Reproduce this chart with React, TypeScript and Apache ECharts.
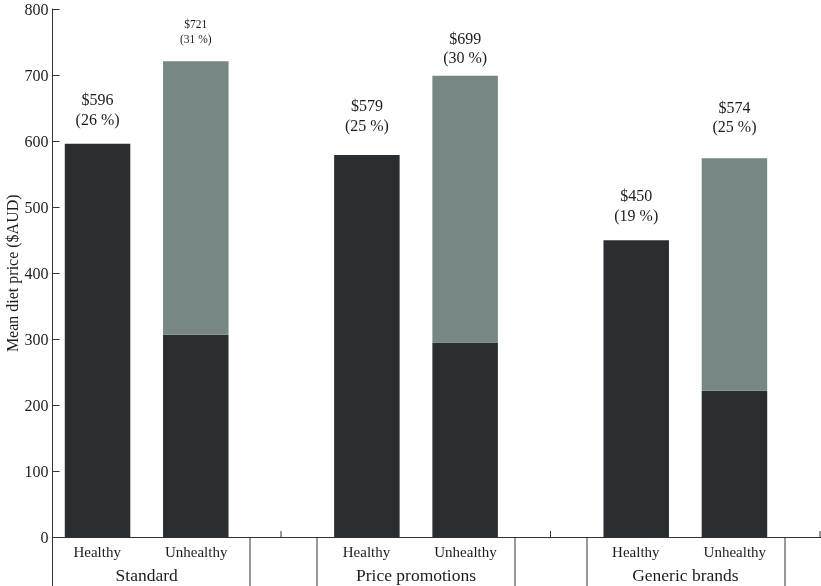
import React, { useEffect, useRef } from "react";
import * as echarts from "echarts";

// ---- data ----
const categories = ["Standard", "Price promotions", "Generic brands"];
const dietTypes = ["Healthy", "Unhealthy"];
const healthyDiet = [596, 579, 450];
const unhealthyDiet = [721, 699, 574];
const unhealthyCoreFoods = [307, 295, 222];
const healthyPct = [26, 25, 19];
const unhealthyPct = [31, 30, 25];
const yTicks = [0, 100, 200, 300, 400, 500, 600, 700, 800];

// ---- styles ----
const DARK = "#2b2e30";
const GREY = "#768785";
const INK = "#1c1c1c";
const FONT = "'Liberation Serif', 'DejaVu Serif', serif";
const healthyLabelGap = [15, 20, 15];
const unhealthyLabelGap = [15, 8, 22];
const unhealthyLabelSize = [11.5, 16, 16];

export default function App() {
  const ref = useRef<HTMLDivElement>(null);

  useEffect(() => {
    if (!ref.current) return;
    const chart = echarts.init(ref.current, undefined, { renderer: "svg" });

    const money = (v: number, p: number) => `$${v}\n(${p} %)`;

    const healthyData = healthyDiet.map((v, i) => ({
      value: v,
      label: {
        distance: healthyLabelGap[i],
        formatter: () => money(healthyDiet[i], healthyPct[i]),
      },
    }));
    const discretionaryData = unhealthyDiet.map((v, i) => ({
      value: v - unhealthyCoreFoods[i],
      label: {
        distance: unhealthyLabelGap[i],
        fontSize: unhealthyLabelSize[i],
        lineHeight: unhealthyLabelSize[i] < 14 ? 14.5 : 19.5,
        formatter: () => money(unhealthyDiet[i], unhealthyPct[i]),
      },
    }));

    const lineStyle = { stroke: "#333", lineWidth: 1 };
    const vline = (x: number, y1: number, y2: number) => ({
      type: "line",
      shape: { x1: x, y1, x2: x, y2 },
      style: lineStyle,
      silent: true,
    });

    const option: any = {
      animation: false,
      textStyle: { fontFamily: FONT, color: INK },
      grid: {
        left: 12,
        right: 1,
        top: 9,
        bottom: 48.5,
        containLabel: false,
        outerBoundsMode: "none",
      },
      xAxis: {
        type: "category",
        data: categories,
        axisLine: { show: false },
        axisTick: { show: false },
        axisLabel: {
          margin: 3,
          interval: 0,
          formatter: (name: string) =>
            `{h|${dietTypes[0]}}{u|${dietTypes[1]}}\n{g|${name}}`,
          rich: {
            h: { width: 99, align: "center", fontSize: 15, lineHeight: 22, fontFamily: FONT, color: INK },
            u: { width: 99, align: "center", fontSize: 15, lineHeight: 22, fontFamily: FONT, color: INK },
            g: { align: "center", fontSize: 17.5, lineHeight: 25, fontFamily: FONT, color: INK },
          },
        },
      },
      yAxis: {
        type: "value",
        min: yTicks[0],
        max: yTicks[yTicks.length - 1],
        interval: 100,
        offset: -40.5,
        name: "Mean diet price ($AUD)",
        nameLocation: "middle",
        nameGap: 32,
        nameMoveOverlap: false,
        nameTextStyle: { fontSize: 16, lineHeight: 16, fontFamily: FONT, color: INK },
        axisLine: { show: true, lineStyle: { color: "#333", width: 1 } },
        axisTick: { show: true, inside: true, length: 7, lineStyle: { color: "#333" } },
        axisLabel: { fontSize: 16, margin: 4, color: INK, fontFamily: FONT },
        splitLine: { show: false },
      },
      series: [
        {
          name: "Healthy diet",
          type: "bar",
          stack: "healthy",
          barWidth: 65.5,
          barGap: "50%",
          itemStyle: { color: DARK },
          label: {
            show: true,
            position: "top",
            fontSize: 16,
            lineHeight: 19.5,
            color: INK,
            fontFamily: FONT,
          },
          data: healthyData,
        },
        {
          name: "Unhealthy diet (core foods)",
          type: "bar",
          stack: "unhealthy",
          barWidth: 65.5,
          barGap: "50%",
          itemStyle: { color: DARK },
          data: unhealthyCoreFoods,
        },
        {
          name: "Unhealthy diet (discretionary)",
          type: "bar",
          stack: "unhealthy",
          barWidth: 65.5,
          barGap: "50%",
          itemStyle: { color: GREY },
          label: {
            show: true,
            position: "top",
            fontSize: 16,
            lineHeight: 19.5,
            color: INK,
            fontFamily: FONT,
          },
          data: discretionaryData,
        },
      ],
      graphic: [
        {
          type: "line",
          shape: { x1: 52.5, y1: 537.5, x2: 821, y2: 537.5 },
          style: lineStyle,
          silent: true,
        },
        vline(52.5, 537.5, 586),
        vline(281, 531, 537.5),
        vline(550.5, 531, 537.5),
        vline(820, 531, 537.5),
        vline(250, 537.5, 586),
        vline(317, 537.5, 586),
        vline(515, 537.5, 586),
        vline(587, 537.5, 586),
        vline(785, 537.5, 586),
      ],
    };

    chart.setOption(option);
    return () => chart.dispose();
  }, []);

  return (
    <div
      ref={ref}
      style={{ position: "fixed", left: 0, top: 0, width: 821, height: 586 }}
    />
  );
}
